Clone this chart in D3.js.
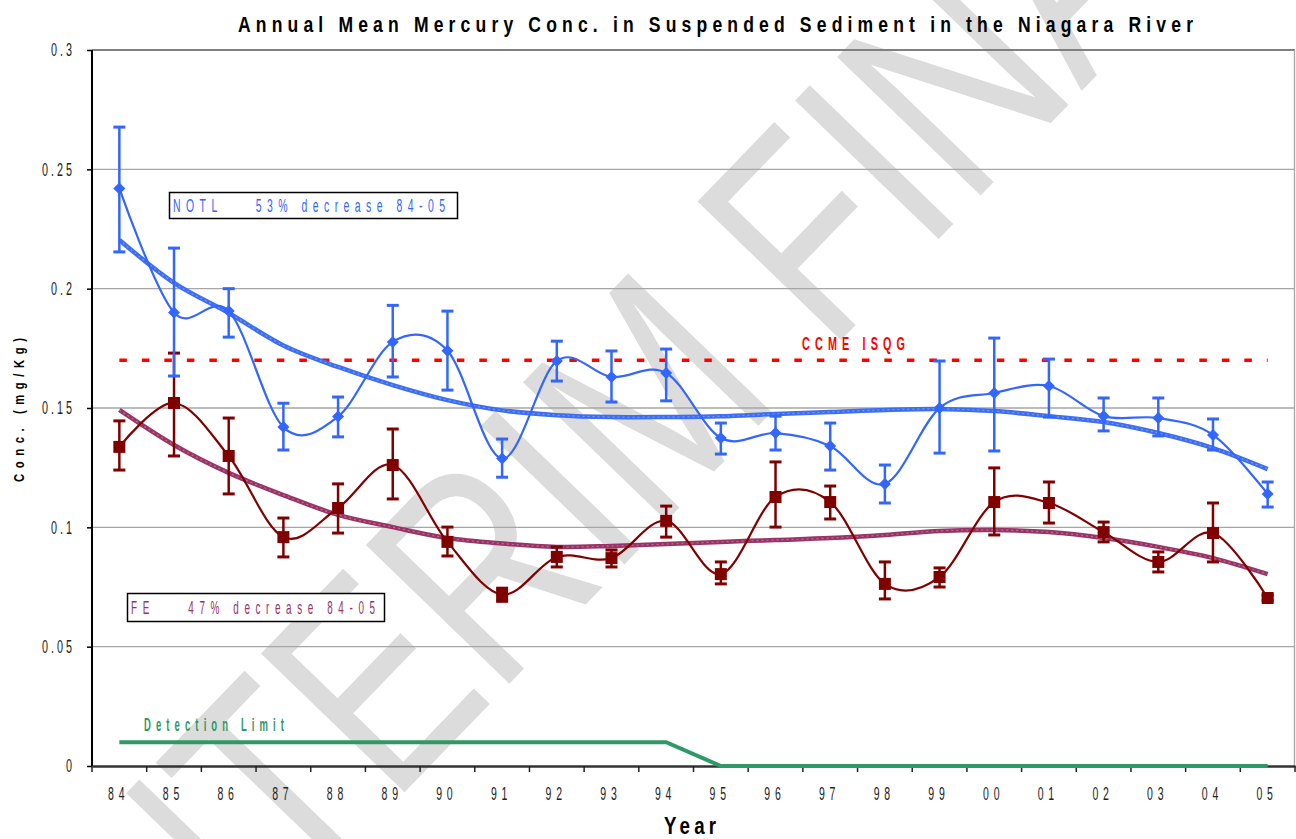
<!DOCTYPE html>
<html>
<head>
<meta charset="utf-8">
<script src="https://cdn.jsdelivr.net/npm/d3@7"></script>
<style>
  html, body { margin: 0; padding: 0; background: #fff; }
  svg { display: block; }
</style>
</head>
<body>
<svg id="chart"></svg>
<script>
// data
const years = ["84","85","86","87","88","89","90","91","92","93","94","95","96","97","98","99","00","01","02","03","04","05"];
const notl = [0.242, 0.190, 0.1906, 0.142, 0.1464, 0.1777, 0.174, 0.1288, 0.1697, 0.163, 0.1647, 0.1374, 0.1395, 0.1341, 0.1182, 0.150, 0.1563, 0.1592, 0.1466, 0.1458, 0.1387, 0.114];
const notlHi = [0.2677, 0.217, 0.200, 0.152, 0.1546, 0.193, 0.1906, 0.137, 0.178, 0.1739, 0.1747, 0.1437, 0.1466, 0.1437, 0.1261, 0.1697, 0.1793, 0.1705, 0.1542, 0.1542, 0.1454, 0.119];
const notlLo = [0.2154, 0.1634, 0.1797, 0.1324, 0.1379, 0.163, 0.1575, 0.121, 0.1613, 0.1525, 0.153, 0.1307, 0.1324, 0.124, 0.1102, 0.1311, 0.132, 0.1462, 0.1404, 0.1383, 0.1324, 0.1085];
const fe = [0.1337, 0.1521, 0.1299, 0.0959, 0.1081, 0.1261, 0.0939, 0.0718, 0.0876, 0.0871, 0.1027, 0.0804, 0.1127, 0.1106, 0.0763, 0.0792, 0.1106, 0.1102, 0.098, 0.0855, 0.0976, 0.0704];
const feHi = [0.1446, 0.173, 0.1458, 0.1039, 0.1182, 0.1412, 0.1001, 0.0745, 0.0918, 0.0905, 0.1089, 0.0855, 0.1274, 0.1173, 0.0855, 0.083, 0.1249, 0.119, 0.1022, 0.0897, 0.1102, 0.0715];
const feLo = [0.124, 0.1299, 0.114, 0.0876, 0.0976, 0.1119, 0.088, 0.069, 0.0834, 0.0834, 0.0959, 0.0763, 0.1001, 0.1035, 0.07, 0.075, 0.0968, 0.1018, 0.0939, 0.0813, 0.0855, 0.0695];
const notlTrend = [0.2204, 0.2024, 0.1898, 0.1762, 0.1672, 0.1596, 0.1533, 0.149, 0.147, 0.1462, 0.1462, 0.1465, 0.1475, 0.1483, 0.1492, 0.1496, 0.1487, 0.1466, 0.1441, 0.1395, 0.1332, 0.1244];
const feTrend = [0.1492, 0.1345, 0.1228, 0.1135, 0.1052, 0.1001, 0.0955, 0.0932, 0.0918, 0.0922, 0.093, 0.0939, 0.0947, 0.0955, 0.0968, 0.0985, 0.0989, 0.098, 0.0955, 0.0918, 0.0871, 0.0804];
const detection = [0.01, 0.01, 0.01, 0.01, 0.01, 0.01, 0.01, 0.01, 0.01, 0.01, 0.01, 0, 0, 0, 0, 0, 0, 0, 0, 0, 0, 0];
const ccme = 0.17;
const yTicks = [0, 0.05, 0.1, 0.15, 0.2, 0.25, 0.3];

const width = 1296;
const height = 839;
const margin = {top: 50, right: 1, bottom: 73, left: 92};
const FONT = "'Liberation Sans',Arial,sans-serif";

const svg = d3.select("#chart").attr("width", width).attr("height", height)
    .attr("font-family", FONT);

const x = d3.scaleBand(years, [margin.left, width - margin.right]);
const cx = d => x(d) + x.bandwidth() / 2;
const y = d3.scaleLinear([0, 0.3], [height - margin.bottom, margin.top]);

// the original uses a condensed face, so squeeze the text horizontally
function label(px, py, str, len, size, sx, opts = {}) {
    const t = svg.append("text")
        .attr("transform", `translate(${px},${py}) scale(${sx},1)`)
        .attr("font-size", size)
        .attr("font-weight", opts.weight || "normal")
        .attr("fill", opts.fill || "#000")
        .attr("textLength", len / sx).attr("lengthAdjust", "spacing")
        .style("white-space", "pre")
        .text(str);
    return t;
}

// watermark
svg.append("text")
    .attr("transform", "translate(706,480) rotate(-46) scale(0.78,1)")
    .attr("text-anchor", "middle")
    .attr("font-size", 290)
    .attr("fill", "#dcdcdc")
    .text("INTERIM FINAL");

// grid
svg.append("g")
    .selectAll("line")
    .data(yTicks.filter(d => d > 0 && d < 0.3))
    .join("line")
    .attr("x1", margin.left).attr("x2", width - margin.right)
    .attr("y1", d => y(d)).attr("y2", d => y(d))
    .attr("stroke", "#a6a6a6").attr("stroke-width", 1.3);

svg.append("line")
    .attr("x1", margin.left).attr("x2", width - margin.right)
    .attr("y1", y(0.3)).attr("y2", y(0.3))
    .attr("stroke", "#808080").attr("stroke-width", 2);
svg.append("line")
    .attr("x1", width - margin.right - 0.5).attr("x2", width - margin.right - 0.5)
    .attr("y1", y(0.3)).attr("y2", y(0))
    .attr("stroke", "#a6a6a6").attr("stroke-width", 1.3);

// y axis
const tickSx = 0.6;
svg.append("g")
    .attr("transform", `translate(${margin.left},0)`)
    .call(d3.axisLeft(y).tickValues(yTicks).tickFormat(d => String(d)).tickSize(5).tickPadding(14))
    .call(g => g.select(".domain").attr("stroke", "#000").attr("stroke-width", 2).attr("d", `M0,${y(0.3)}V${y(0)}`))
    .call(g => g.selectAll(".tick line").attr("stroke", "#000").attr("stroke-width", 1.5))
    .call(g => g.selectAll(".tick text")
        .attr("font-family", FONT).attr("font-size", 18).attr("fill", "#222")
        .attr("transform", `scale(${tickSx},1)`)
        .attr("x", -20 / tickSx)
        .attr("letter-spacing", 5).attr("dx", 5));

// x axis
svg.append("g")
    .attr("transform", `translate(0,${y(0)})`)
    .call(d3.axisBottom(x).tickSize(0).tickPadding(22))
    .call(g => g.select(".domain").attr("stroke", "#333").attr("stroke-width", 2.5))
    .call(g => g.selectAll(".tick text")
        .attr("font-family", FONT).attr("font-size", 17.5).attr("fill", "#222")
        .attr("transform", `scale(${tickSx},1)`)
        .attr("letter-spacing", 8).attr("dx", -1))
    .call(g => g.append("g").selectAll("line")
        .data(years.map(d => x(d)).concat([width - margin.right]))
        .join("line")
        .attr("x1", d => d).attr("x2", d => d)
        .attr("y1", 0).attr("y2", 6)
        .attr("stroke", "#222").attr("stroke-width", 1.5));

// titles
label(238, 32, "Annual Mean Mercury Conc. in Suspended Sediment in the Niagara River", 955, 22.5, 0.78, {weight: "bold"});
svg.append("text")
    .attr("transform", "translate(24,482) rotate(-90) scale(0.75,1)")
    .attr("font-size", 15).attr("font-weight", "bold")
    .attr("textLength", 144 / 0.75).attr("lengthAdjust", "spacing")
    .text("Conc. (mg/Kg)");
label(664, 834, "Year", 52, 24, 0.78, {weight: "bold"});

// detection limit
const line = d3.line().x((d, i) => cx(years[i])).y(d => y(d));
svg.append("path")
    .datum(detection)
    .attr("fill", "none").attr("stroke", "#2e9966").attr("stroke-width", 4)
    .attr("d", line);
label(144, 731, "Detection Limit", 140, 19, 0.5, {fill: "#2e9966", weight: "bold"});

// CCME ISQG guideline
svg.append("line")
    .attr("x1", cx(years[0])).attr("x2", cx(years[years.length - 1]))
    .attr("y1", y(ccme)).attr("y2", y(ccme))
    .attr("stroke", "#ff0000").attr("stroke-width", 3.5).attr("stroke-dasharray", "7.5,15");
label(802, 350, "CCME ISQG", 103, 18, 0.6, {weight: "bold", fill: "#ff0000"});

// trend lines
const smooth = d3.line().x((d, i) => cx(years[i])).y(d => y(d)).curve(d3.curveCatmullRom.alpha(0));
function trend(values, color) {
    svg.append("path").datum(values)
        .attr("fill", "none").attr("stroke", color).attr("stroke-width", 4.5)
        .attr("d", smooth);
    svg.append("path").datum(values)
        .attr("fill", "none").attr("stroke", "#fff").attr("stroke-opacity", 0.3)
        .attr("stroke-width", 1.2).attr("stroke-dasharray", "2,3")
        .attr("d", smooth);
}
trend(notlTrend, "#3d6ef2");
trend(feTrend, "#993366");

// series with error bars
function series(values, hi, lo, color, symbol, size, rotate) {
    const g = svg.append("g");
    g.append("path").datum(values)
        .attr("fill", "none").attr("stroke", color).attr("stroke-width", 2.2)
        .attr("d", smooth);
    const bars = g.append("g").attr("stroke", color);
    bars.selectAll(".stem").data(years).join("line")
        .attr("x1", cx).attr("x2", cx)
        .attr("y1", (d, i) => y(hi[i])).attr("y2", (d, i) => y(lo[i]))
        .attr("stroke-width", 2.5);
    bars.selectAll(".cap").data(years.flatMap((d, i) => [[d, hi[i]], [d, lo[i]]])).join("line")
        .attr("x1", d => cx(d[0]) - 6).attr("x2", d => cx(d[0]) + 6)
        .attr("y1", d => y(d[1])).attr("y2", d => y(d[1]))
        .attr("stroke-width", 3);
    g.append("g").selectAll("path").data(values).join("path")
        .attr("transform", (d, i) => `translate(${cx(years[i])},${y(d)}) rotate(${rotate})`)
        .attr("fill", color)
        .attr("d", d3.symbol(symbol, size));
}
series(fe, feHi, feLo, "#800000", d3.symbolSquare, 144, 0);
series(notl, notlHi, notlLo, "#3366ff", d3.symbolSquare, 72, 45);

// legend boxes
svg.append("rect")
    .attr("x", 169.5).attr("y", 192.5).attr("width", 288).attr("height", 26)
    .attr("fill", "#fff").attr("stroke", "#000").attr("stroke-width", 1.5);
label(173, 212, "NOTL    53% decrease 84-05", 272, 19, 0.55, {fill: "#3366ff"});

svg.append("rect")
    .attr("x", 127.5).attr("y", 593.5).attr("width", 257).attr("height", 28)
    .attr("fill", "#fff").attr("stroke", "#000").attr("stroke-width", 1.5);
label(131, 614, "FE    47% decrease 84-05", 244, 18, 0.55, {fill: "#993366"});
</script>
</body>
</html>
